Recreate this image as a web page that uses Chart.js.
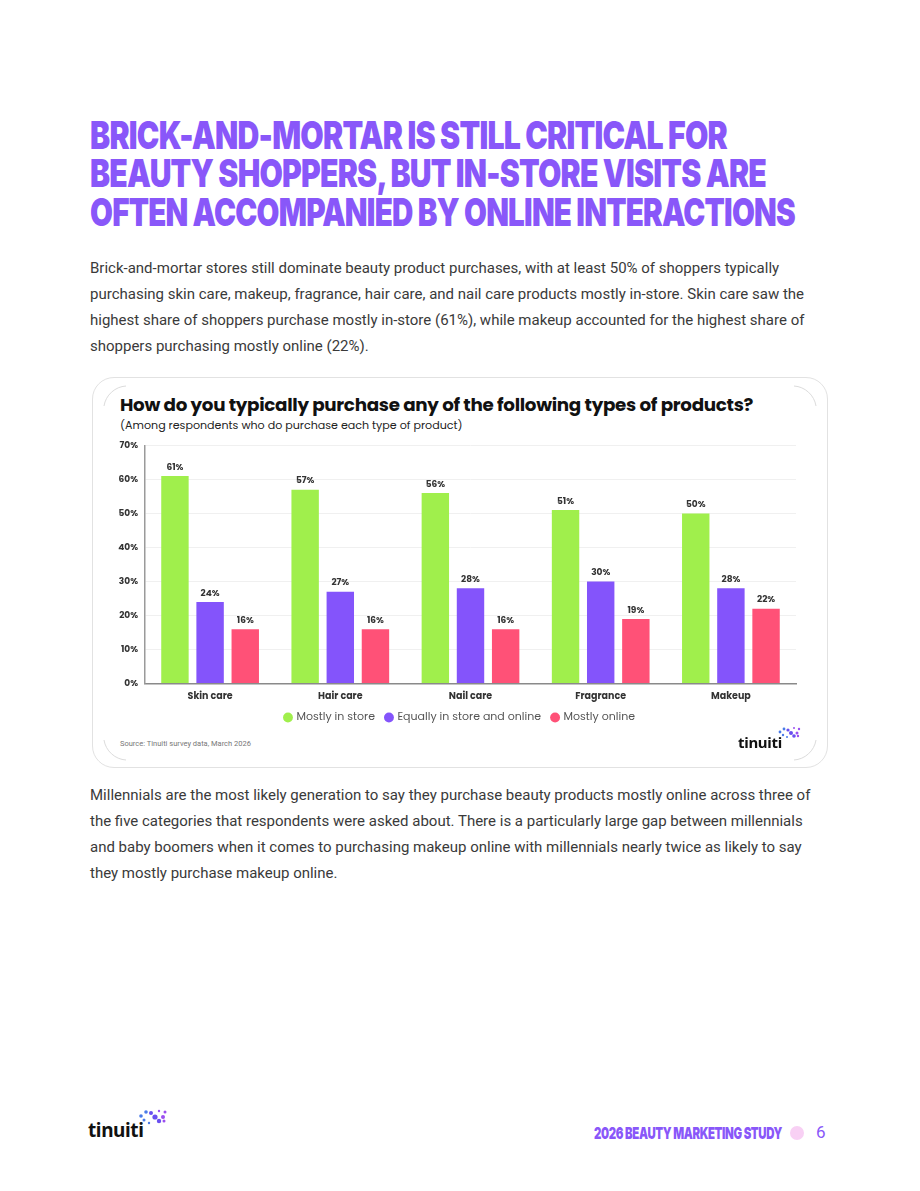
<!DOCTYPE html>
<html>
<head>
<meta charset="utf-8">
<script src="https://cdn.jsdelivr.net/npm/chart.js@4.4.1/dist/chart.umd.min.js"></script>
<style>
  body { margin: 0; background: #fff; width: 920px; height: 1191px; position: relative; overflow: hidden; }
  .fit { position: absolute; white-space: nowrap; transform-origin: 0 0; }
  .headline { left: 90px; font-family: Inter, Roboto, sans-serif; font-weight: 900; font-size: 38.5px; line-height: 36px;
    color: #8957f9; letter-spacing: -1px; }
  .body-text { position: absolute; left: 90px; font-family: Roboto, sans-serif; font-size: 15px; line-height: 26px; color: #3a3a3a; white-space: nowrap; }
  .card { position: absolute; left: 92px; top: 377px; width: 736px; height: 391px; border: 1.5px solid #e2e2e2; border-radius: 22px; box-sizing: border-box; }
  .chart-title { position: absolute; left: 120px; top: 391px; font-family: Poppins, "Noto Sans", sans-serif; font-weight: 700; font-size: 18.3px; color: #111; letter-spacing: -0.3px; white-space: nowrap; }
  .chart-sub { position: absolute; left: 120px; top: 417px; font-family: Poppins, "Noto Sans", sans-serif; font-size: 11.1px; color: #222; white-space: nowrap; }
  .source { position: absolute; left: 120px; top: 739px; font-family: Roboto, sans-serif; font-size: 7.5px; color: #777; }
  #chartBox { position: absolute; left: 100px; top: 433px; width: 710px; height: 299px; }
  .logo { position: absolute; }
  .footer-title { left: 594px; top: 1125px; font-family: Inter, Roboto, sans-serif; font-weight: 900; font-size: 16.5px; line-height: 16px;
    color: #8957f9; letter-spacing: -0.5px; }
  .footer-dot { position: absolute; left: 790px; top: 1126px; width: 14px; height: 14px; border-radius: 50%; background: #f8d0f4; }
  .page-num { position: absolute; left: 816px; top: 1122px; font-family: Roboto, sans-serif; font-size: 17px; color: #8957f9; }
</style>
</head>
<body>
<div class="fit headline" style="top:117px" data-w="637">BRICK-AND-MORTAR IS STILL CRITICAL FOR</div>
<div class="fit headline" style="top:155px" data-w="676">BEAUTY SHOPPERS, BUT IN-STORE VISITS ARE</div>
<div class="fit headline" style="top:194px" data-w="705">OFTEN ACCOMPANIED BY ONLINE INTERACTIONS</div>

<div class="body-text" style="top:255px">Brick-and-mortar stores still dominate beauty product purchases, with at least 50% of shoppers typically<br>purchasing skin care, makeup, fragrance, hair care, and nail care products mostly in-store. Skin care saw the<br>highest share of shoppers purchase mostly in-store (61%), while makeup accounted for the highest share of<br>shoppers purchasing mostly online (22%).</div>

<div class="card"></div>
<svg style="position:absolute;left:0;top:0" width="920" height="800">
  <g fill="none" stroke="#dcdcdc" stroke-width="1">
    <path d="M104 406 A 24 24 0 0 1 126 386"/>
    <path d="M794 386 A 24 24 0 0 1 816 406"/>
    <path d="M104 740 A 24 24 0 0 0 126 760"/>
    <path d="M794 760 A 24 24 0 0 0 816 740"/>
  </g>
</svg>
<div class="chart-title">How do you typically purchase any of the following types of products?</div>
<div class="chart-sub">(Among respondents who do purchase each type of product)</div>
<div id="chartBox"><canvas id="chart"></canvas></div>
<div class="source">Source: Tinuiti survey data, March 2026</div>

<svg class="logo" style="left:736px;top:724px" width="68" height="28" viewBox="0 0 68 28">
  <text x="2" y="24" font-family="Noto Sans, sans-serif" font-weight="700" font-size="15" fill="#111" letter-spacing="-0.3">tinuiti</text>
  <g fill="#6a4ff0">
    <circle cx="44" cy="8" r="1.4" fill="#4a7be8"/><circle cx="48" cy="5" r="1.4" fill="#4a7be8"/><circle cx="52" cy="6" r="1.6"/>
    <circle cx="55" cy="9" r="2"/><circle cx="58" cy="12" r="1.8"/><circle cx="61" cy="9" r="1.5" fill="#9b4ff0"/>
    <circle cx="63" cy="5" r="1.2" fill="#9b4ff0"/><circle cx="58" cy="4" r="1" fill="#9b4ff0"/><circle cx="47" cy="11" r="1.2" fill="#4a7be8"/>
    <circle cx="51" cy="13" r="1" fill="#4a7be8"/><circle cx="62" cy="12" r="1.2" fill="#9b4ff0"/>
  </g>
</svg>

<div class="body-text" style="top:782px">Millennials are the most likely generation to say they purchase beauty products mostly online across three of<br>the five categories that respondents were asked about. There is a particularly large gap between millennials<br>and baby boomers when it comes to purchasing makeup online with millennials nearly twice as likely to say<br>they mostly purchase makeup online.</div>

<svg class="logo" style="left:86px;top:1106px" width="84" height="36" viewBox="0 0 84 36">
  <text x="2" y="31" font-family="Noto Sans, sans-serif" font-weight="700" font-size="19" fill="#111" letter-spacing="-0.4">tinuiti</text>
  <g fill="#6a4ff0">
    <circle cx="55" cy="10" r="1.8" fill="#4a7be8"/><circle cx="60" cy="6" r="1.8" fill="#4a7be8"/><circle cx="65" cy="7" r="2"/>
    <circle cx="69" cy="11" r="2.6"/><circle cx="73" cy="15" r="2.2"/><circle cx="77" cy="11" r="2" fill="#9b4ff0"/>
    <circle cx="79" cy="6" r="1.5" fill="#9b4ff0"/><circle cx="73" cy="5" r="1.2" fill="#9b4ff0"/><circle cx="58" cy="14" r="1.5" fill="#4a7be8"/>
    <circle cx="63" cy="17" r="1.2" fill="#4a7be8"/><circle cx="78" cy="15" r="1.5" fill="#9b4ff0"/>
  </g>
</svg>
<div class="fit footer-title" data-w="188">2026 BEAUTY MARKETING STUDY</div>
<div class="footer-dot"></div>
<div class="page-num">6</div>

<script>
const categories = ['Skin care', 'Hair care', 'Nail care', 'Fragrance', 'Makeup'];
const mostlyInStore = [61, 57, 56, 51, 50];
const equallyBoth = [24, 27, 28, 30, 28];
const mostlyOnline = [16, 16, 16, 19, 22];
const seriesNames = ['Mostly in store', 'Equally in store and online', 'Mostly online'];
const yTicks = [0, 10, 20, 30, 40, 50, 60, 70];

const COLORS = {
  green: '#a0ef4c',
  purple: '#8454fb',
  pink: '#ff5177'
};

// squeeze the condensed headline lines to the width they take in the layout
document.querySelectorAll('.fit').forEach(el => {
  const target = parseFloat(el.dataset.w);
  const actual = el.getBoundingClientRect().width;
  if (actual > 0) el.style.transform = `scaleX(${target / actual})`;
});

// draws the percentage above each bar
const valueLabels = {
  id: 'valueLabels',
  afterDatasetsDraw(chart) {
    const ctx = chart.ctx;
    ctx.save();
    ctx.font = 'bold 9px Poppins, "Noto Sans", sans-serif';
    ctx.fillStyle = '#333';
    ctx.textAlign = 'center';
    ctx.textBaseline = 'bottom';
    chart.data.datasets.forEach((ds, i) => {
      chart.getDatasetMeta(i).data.forEach((bar, j) => {
        ctx.fillText(ds.data[j] + '%', bar.x, bar.y - 4);
      });
    });
    ctx.restore();
  }
};

// pull the legend closer to the category labels and centre it under the plot
const tightLegend = {
  id: 'tightLegend',
  beforeInit(chart) {
    const legend = chart.legend;
    const origFit = legend.fit;
    legend.fit = function() {
      origFit.call(this);
      this.height -= 9;
    };
  },
  afterLayout(chart) {
    const legend = chart.legend;
    legend.top -= 8;
    legend.bottom -= 8;
    legend.left += 12;
    legend.right += 12;
  }
};

function makeDataset(label, data, color) {
  return {
    label: label,
    data: data,
    backgroundColor: color,
    borderWidth: 0,
    categoryPercentage: 0.81,
    barPercentage: 0.78
  };
}

const chart = new Chart(document.getElementById('chart').getContext('2d'), {
  type: 'bar',
  data: {
    labels: categories,
    datasets: [
      makeDataset(seriesNames[0], mostlyInStore, COLORS.green),
      makeDataset(seriesNames[1], equallyBoth, COLORS.purple),
      makeDataset(seriesNames[2], mostlyOnline, COLORS.pink)
    ]
  },
  options: {
    responsive: true,
    maintainAspectRatio: false,
    animation: false,
    layout: { padding: { top: 0, right: 14, left: 0, bottom: 0 } },
    scales: {
      x: {
        grid: { display: false, drawTicks: false },
        border: { color: '#8a8a8a', width: 1.5 },
        ticks: {
          padding: 7,
          color: '#333',
          font: { family: 'Poppins, "Noto Sans", sans-serif', size: 9.5, weight: 'bold' }
        }
      },
      y: {
        min: 0,
        max: 70,
        afterBuildTicks(scale) {
          scale.ticks = yTicks.map(v => ({ value: v }));
        },
        afterFit(scale) {
          scale.width = 45;
        },
        grid: { color: '#f0f0f0', drawTicks: false },
        border: { color: '#9a9a9a', width: 1.5 },
        ticks: {
          padding: 7,
          color: '#333',
          font: { family: 'Poppins, "Noto Sans", sans-serif', size: 9, weight: 'bold' },
          callback: v => v + '%'
        }
      }
    },
    plugins: {
      legend: {
        position: 'bottom',
        labels: {
          usePointStyle: true,
          pointStyle: 'circle',
          boxWidth: 6,
          boxHeight: 7,
          padding: 11,
          color: '#555',
          font: { family: 'Poppins, "Noto Sans", sans-serif', size: 11 }
        }
      },
      tooltip: { enabled: false }
    }
  },
  plugins: [valueLabels, tightLegend]
});
</script>
</body>
</html>
